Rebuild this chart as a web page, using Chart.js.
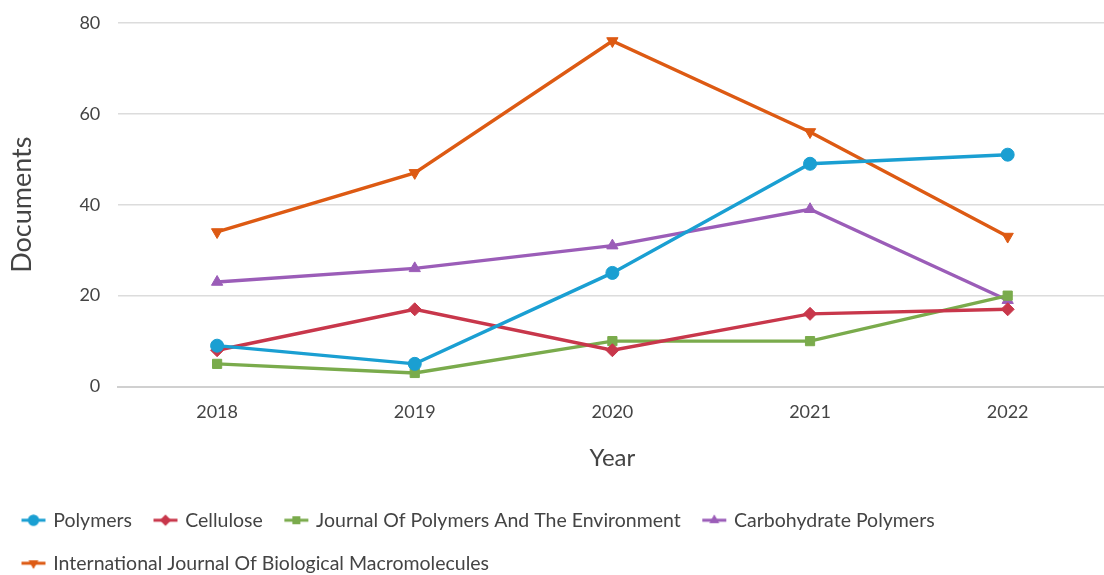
<!DOCTYPE html>
<html>
<head>
<meta charset="utf-8">
<script src="https://cdn.jsdelivr.net/npm/chart.js@4/dist/chart.umd.min.js"></script>
<style>
  html, body { margin: 0; padding: 0; background: #fff; overflow: hidden; }
  #wrap { width: 1104px; height: 575px; overflow: hidden; }
</style>
</head>
<body>
<div id="wrap"><canvas id="c" width="1114" height="575"></canvas></div>
<script>
const years = ['2018', '2019', '2020', '2021', '2022'];
const seriesNames = ['Polymers', 'Cellulose', 'Journal Of Polymers And The Environment', 'Carbohydrate Polymers', 'International Journal Of Biological Macromolecules'];
const polymers = [9, 5, 25, 49, 51];
const cellulose = [8, 17, 8, 16, 17];
const jPolymEnv = [5, 3, 10, 10, 20];
const carbohydratePolymers = [23, 26, 31, 39, 19];
const ijbm = [34, 47, 76, 56, 33];
const yTicks = [0, 20, 40, 60, 80];

const colors = ['#1a9fd2', '#c8374b', '#7aab4c', '#9b5db8', '#dd5a13'];
const styles = ['circle', 'rectRot', 'rect', 'triangle', 'triangle'];
const rotations = [0, 0, 0, 0, 180];
const values = [polymers, cellulose, jPolymEnv, carbohydratePolymers, ijbm];

function legendIcon(color, style, rotation) {
  const cv = document.createElement('canvas');
  cv.width = 26; cv.height = 14;
  const ctx = cv.getContext('2d');
  ctx.strokeStyle = color; ctx.lineWidth = 3;
  ctx.beginPath(); ctx.moveTo(1, 7); ctx.lineTo(25, 7); ctx.stroke();
  ctx.fillStyle = color;
  Chart.helpers.drawPoint(ctx, {pointStyle: style, rotation: rotation, radius: 5.5, borderWidth: 0}, 13, 7);
  ctx.fill();
  return cv;
}

const datasets = seriesNames.map((name, i) => ({
  label: name,
  data: values[i],
  borderColor: colors[i],
  backgroundColor: colors[i],
  borderWidth: 3.4,
  pointStyle: styles[i],
  rotation: rotations[i],
  pointRadius: 6.5,
  pointHoverRadius: 6.5,
  pointBorderWidth: 1,
  tension: 0,
  fill: false
}));

const bgPlugin = {
  id: 'bg',
  beforeDraw(chart) {
    const ctx = chart.ctx;
    ctx.save(); ctx.fillStyle = '#fff'; ctx.fillRect(0, 0, chart.width, chart.height); ctx.restore();
  }
};

const FONT = 'Lato, "Open Sans", sans-serif';

new Chart(document.getElementById('c'), {
  type: 'line',
  data: { labels: years, datasets },
  plugins: [bgPlugin],
  options: {
    responsive: false,
    animation: false,
    layout: { padding: { left: 0, right: 0, top: 5, bottom: -8 } },
    plugins: {
      tooltip: { enabled: false },
      legend: {
        position: 'bottom',
        align: 'start',
        labels: {
          usePointStyle: true,
          pointStyleWidth: 20,
          padding: 23.5,
          color: '#444',
          font: { family: FONT, size: 19.5 },
          generateLabels(chart) {
            const items = Chart.defaults.plugins.legend.labels.generateLabels(chart);
            items.forEach((it, i) => {
              it.pointStyle = legendIcon(colors[i], styles[i], rotations[i]);
              it.rotation = 0;
            });
            return items;
          }
        }
      }
    },
    scales: {
      x: {
        offset: true,
        grid: { display: false, drawTicks: false },
        border: { display: true, color: '#d0d0d0', width: 2 },
        ticks: { color: '#444', padding: 15, font: { family: FONT, size: 18 } },
        title: { display: true, text: 'Year', color: '#444', font: { family: FONT, size: 24 }, padding: { top: 6, bottom: 14 } }
      },
      y: {
        min: 0, max: 80,
        afterBuildTicks(axis) { axis.ticks = yTicks.map(v => ({ value: v })); },
        grid: { color: '#dcdcdc', lineWidth: 1.5, drawTicks: true, tickLength: 6, tickColor: 'rgba(0,0,0,0)' },
        border: { display: false },
        ticks: { color: '#444', padding: 12, font: { family: FONT, size: 18 } },
        title: { display: true, text: 'Documents', color: '#444', font: { family: FONT, size: 27 }, padding: { top: 6, bottom: 29 } }
      }
    }
  }
});
</script>
</body>
</html>
